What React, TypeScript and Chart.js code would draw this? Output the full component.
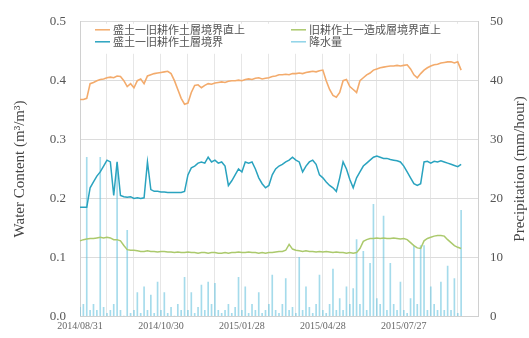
import React, { useEffect, useRef } from "react";
import { Chart, registerables } from "chart.js";

Chart.register(...registerables);

const xTickLabels = ["2014/08/31", "2014/10/30", "2015/01/28", "2015/04/28", "2015/07/27"];
const pointCount = 119;
const pointsPerLabel = 24;
const pointsPerGrid = 8;

const seriesNames = [
  "盛土一旧耕作土層境界直上",
  "盛土一旧耕作土層境界",
  "旧耕作土一造成層境界直上",
  "降水量",
];

const upperValues = [
  0.368, 0.368, 0.37, 0.395, 0.397, 0.4, 0.402, 0.403, 0.405, 0.406,
  0.405, 0.408, 0.407, 0.4, 0.39, 0.395, 0.388, 0.4, 0.403, 0.395,
  0.408, 0.41, 0.412, 0.413, 0.414, 0.415, 0.416, 0.412, 0.4, 0.385,
  0.37, 0.36, 0.362, 0.38, 0.392, 0.393, 0.388, 0.392, 0.395, 0.394,
  0.396, 0.397, 0.398, 0.397, 0.399, 0.4, 0.4, 0.401, 0.4, 0.402,
  0.403, 0.402, 0.404, 0.405, 0.403, 0.404, 0.405, 0.407, 0.408, 0.41,
  0.41, 0.411, 0.41, 0.412, 0.412, 0.413, 0.412, 0.414, 0.415, 0.416,
  0.415, 0.417, 0.418, 0.4, 0.385, 0.375, 0.372, 0.38, 0.4, 0.402,
  0.39, 0.385, 0.38, 0.4, 0.405, 0.41, 0.413, 0.418, 0.42, 0.422,
  0.423, 0.424, 0.425, 0.425, 0.426, 0.425, 0.426, 0.427, 0.42, 0.41,
  0.405, 0.412, 0.418, 0.422, 0.425, 0.427, 0.428, 0.43, 0.431, 0.432,
  0.432, 0.43, 0.432, 0.418,
];

const boundaryValues = [
  0.185, 0.185, 0.185, 0.218, 0.228, 0.238, 0.245, 0.255, 0.265, 0.262,
  0.205, 0.262, 0.205, 0.203, 0.202, 0.203, 0.2, 0.201, 0.2, 0.201,
  0.262, 0.215, 0.212, 0.212, 0.211, 0.211, 0.21, 0.21, 0.21, 0.21,
  0.21, 0.212, 0.24, 0.252, 0.255, 0.26, 0.262, 0.26, 0.27, 0.262,
  0.265, 0.26, 0.262, 0.255, 0.222, 0.23, 0.24, 0.25, 0.245, 0.262,
  0.26, 0.262, 0.25, 0.235, 0.225, 0.218, 0.222, 0.24, 0.25, 0.255,
  0.258, 0.262, 0.265, 0.27, 0.265, 0.262, 0.245, 0.255, 0.262, 0.265,
  0.258, 0.24, 0.235, 0.228, 0.222, 0.218, 0.212, 0.235, 0.262, 0.25,
  0.232, 0.218, 0.235, 0.245, 0.255, 0.26, 0.265, 0.27, 0.272, 0.27,
  0.268, 0.268, 0.266, 0.265, 0.264, 0.262, 0.255, 0.245, 0.235, 0.225,
  0.222, 0.225, 0.262, 0.263, 0.26, 0.263, 0.262, 0.264, 0.262, 0.26,
  0.258, 0.256, 0.254, 0.258,
];

const lowerValues = [
  0.128, 0.13, 0.131, 0.132, 0.132, 0.133, 0.134, 0.133, 0.134, 0.133,
  0.13, 0.13, 0.128, 0.12, 0.113, 0.112, 0.112, 0.111, 0.11, 0.11,
  0.111, 0.11, 0.11, 0.109, 0.11, 0.11, 0.109, 0.109, 0.108, 0.109,
  0.108, 0.108, 0.109, 0.108, 0.108, 0.107, 0.108, 0.108, 0.107, 0.108,
  0.108, 0.107, 0.107, 0.108, 0.107, 0.108, 0.108, 0.109, 0.108, 0.108,
  0.109, 0.108, 0.108, 0.107, 0.108, 0.107, 0.108, 0.108, 0.109, 0.11,
  0.11, 0.112, 0.122, 0.114, 0.112, 0.111, 0.11, 0.111, 0.11, 0.11,
  0.109, 0.11, 0.109, 0.11, 0.109, 0.108, 0.109, 0.108, 0.108, 0.107,
  0.108, 0.107, 0.108, 0.115, 0.127, 0.13, 0.132, 0.132, 0.133, 0.132,
  0.133, 0.132, 0.132, 0.133, 0.132, 0.131, 0.132, 0.13, 0.125, 0.12,
  0.116, 0.115, 0.128, 0.132, 0.134, 0.136, 0.137, 0.137, 0.136, 0.13,
  0.125, 0.12, 0.117, 0.115,
];

const rainValues = [
  1.5, 2, 27, 1, 2, 1, 27, 1.5, 0.5, 1,
  2, 26, 1, 0, 14.6, 0.5, 1, 4, 0.5, 5,
  1, 3.6, 0.5, 5.8, 1, 4, 0.5, 1.5, 0, 2,
  1, 6.6, 1, 4, 0.5, 1.5, 5.3, 1, 5.8, 2,
  5.6, 1, 0.5, 1, 2, 0.5, 1.5, 6.6, 1, 5,
  0.5, 2, 1, 4, 0.5, 1, 2, 7, 1, 0.5,
  2, 6.4, 1, 1.5, 0.5, 10, 1, 5, 1.5, 0.5,
  2, 7, 1, 0.5, 2, 8, 1, 3, 1, 5,
  2, 4.7, 13, 2, 11, 1, 9, 19, 3, 2,
  17, 1, 9, 2, 1, 5.8, 1, 0.5, 3, 12,
  2, 12, 12, 1, 5, 2, 1, 5.8, 1, 8.5,
  1, 6.4, 0.5, 18,
];

const leftTitle = "Water Content (m³/m³)";
const rightTitle = "Precipitation (mm/hour)";

const SERIF = "'Liberation Serif', 'DejaVu Serif', serif";
const CJK = "'Noto Sans CJK JP', 'Noto Sans', sans-serif";

const legendPlugin = {
  id: "twoColumnLegend",
  afterDraw(chart: any) {
    const { ctx, chartArea } = chart;
    const ds = chart.data.datasets;
    ctx.save();
    ctx.fillStyle = "#ffffff";
    ctx.fillRect(chartArea.left + 2, chartArea.top + 2, chartArea.right - chartArea.left - 4, 30);
    const slots = [
      { i: 0, col: 0, row: 0 },
      { i: 1, col: 0, row: 1 },
      { i: 2, col: 1, row: 0 },
      { i: 3, col: 1, row: 1 },
    ];
    ctx.font = `11px ${CJK}`;
    ctx.textBaseline = "middle";
    ctx.textAlign = "left";
    for (const s of slots) {
      const d = ds[s.i];
      const x0 = chartArea.left + 15 + s.col * 196;
      const y = chartArea.top + 8 + s.row * 12;
      ctx.strokeStyle = d.legendColor || d.borderColor;
      ctx.lineWidth = 1.5;
      ctx.beginPath();
      ctx.moveTo(x0, y);
      ctx.lineTo(x0 + 15, y);
      ctx.stroke();
      ctx.fillStyle = "#555";
      ctx.fillText(d.label, x0 + 18, y);
    }
    // right axis title, reading bottom to top
    const y1 = chart.scales.y1;
    ctx.font = `15px ${SERIF}`;
    ctx.fillStyle = "#444";
    ctx.textAlign = "center";
    ctx.translate(y1.right - 9, (chartArea.top + chartArea.bottom) / 2);
    ctx.rotate(-Math.PI / 2);
    ctx.fillText(rightTitle, 0, 0);
    ctx.restore();
  },
};

export default function App() {
  const ref = useRef<HTMLCanvasElement | null>(null);
  useEffect(() => {
    if (!ref.current) return;
    const labels = Array.from({ length: pointCount }, (_, i) =>
      i % pointsPerLabel === 0 ? xTickLabels[i / pointsPerLabel] ?? "" : ""
    );
    const chart = new Chart(ref.current, {
      type: "bar",
      data: {
        labels,
        datasets: [
          {
            type: "line",
            label: seriesNames[0],
            data: upperValues,
            borderColor: "#f3ab6c",
            borderWidth: 1.6,
            pointRadius: 0,
            yAxisID: "y",
            order: 1,
          } as any,
          {
            type: "line",
            label: seriesNames[1],
            data: boundaryValues,
            borderColor: "#2aa3bf",
            borderWidth: 1.5,
            pointRadius: 0,
            yAxisID: "y",
            order: 1,
          },
          {
            type: "line",
            label: seriesNames[2],
            data: lowerValues,
            borderColor: "#abc96c",
            borderWidth: 1.5,
            pointRadius: 0,
            yAxisID: "y",
            order: 1,
          },
          {
            type: "bar",
            label: seriesNames[3],
            data: rainValues,
            backgroundColor: "rgba(105, 195, 222, 0.6)",
            legendColor: "#8fd3e8",
            barThickness: 1,
            yAxisID: "y1",
            order: 2,
          } as any,
        ],
      },
      options: {
        responsive: false,
        animation: false,
        layout: { padding: { top: 18, left: 0, right: 0, bottom: 0 } },
        plugins: { legend: { display: false }, tooltip: { enabled: false } },
        scales: {
          x: {
            type: "category",
            offset: false,
            grid: {
              offset: false,
              drawTicks: false,
              color: (c: any) => (c.index % pointsPerGrid === 0 ? "#e6e6e6" : "rgba(0,0,0,0)"),
            },
            border: { color: "#d0d0d0" },
            ticks: {
              autoSkip: false,
              maxRotation: 0,
              minRotation: 0,
              padding: 4,
              color: "#666",
              font: { family: SERIF, size: 10 },
            },
            afterFit: (s: any) => {
              s.height = 16;
            },
          },
          y: {
            position: "left",
            min: 0,
            max: 0.5,
            grid: { color: "#dcdcdc", drawTicks: false },
            border: { color: "#d0d0d0" },
            ticks: {
              stepSize: 0.1,
              padding: 14,
              color: "#555",
              font: { family: SERIF, size: 13 },
              callback: (v: any) => Number(v).toFixed(1),
            },
            title: {
              display: true,
              text: leftTitle,
              color: "#444",
              font: { family: SERIF, size: 15 },
              padding: { top: 11, bottom: 0 },
            },
            afterFit: (s: any) => {
              s.width = 80;
            },
          },
          y1: {
            position: "right",
            min: 0,
            max: 50,
            grid: { drawOnChartArea: false, drawTicks: false },
            border: { color: "#d0d0d0" },
            ticks: {
              stepSize: 10,
              padding: 12,
              color: "#555",
              font: { family: SERIF, size: 13 },
            },
            afterFit: (s: any) => {
              s.width = 51;
            },
          },
        },
      },
      plugins: [legendPlugin],
    });
    return () => chart.destroy();
  }, []);
  return (
    <div style={{ position: "fixed", left: 0, top: 0, width: 529, height: 338, background: "#fff" }}>
      <canvas ref={ref} width={529} height={338} />
    </div>
  );
}
